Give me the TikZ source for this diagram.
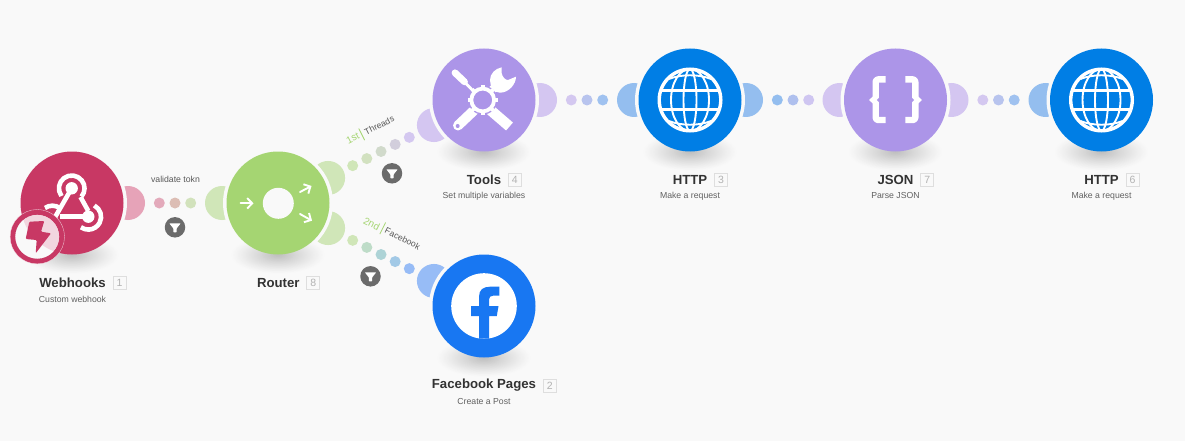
\documentclass[tikz,border=0pt]{standalone}
\usepackage{fontspec}
\setmainfont{Liberation Sans}
\usetikzlibrary{calc,arrows.meta}
\definecolor{bgc}{HTML}{F9F9F9}
\definecolor{pinkc}{HTML}{C83864}
\definecolor{greenc}{HTML}{A5D572}
\definecolor{purplec}{HTML}{AC95E8}
\definecolor{bluec}{HTML}{007EE5}
\definecolor{fbc}{HTML}{1877F2}
\definecolor{lpink}{HTML}{E6A3B8}
\definecolor{lgreen}{HTML}{D0E6B8}
\definecolor{lpurple}{HTML}{D4C6F1}
\definecolor{lblue}{HTML}{94BEEF}
\definecolor{lfb}{HTML}{97BCF6}
\definecolor{paleface}{HTML}{F2D6DF}
\tikzset{
  module/.style={circle,inner sep=0pt,minimum size=103pt,fill=#1},
  gapdisc/.style={circle,inner sep=0pt,minimum size=110pt,fill=bgc},
  lobe/.style={circle,inner sep=0pt,minimum size=34pt,fill=#1},
  dotc/.style={circle,inner sep=0pt,minimum size=11pt,fill=#1},
  title/.style={font=\fontsize{13.2}{15}\selectfont\bfseries,text=black!80,inner sep=0pt},
  subt/.style={font=\fontsize{8.7}{10}\selectfont,text=black!62,inner sep=0pt},
  numbox/.style={draw=black!13,line width=.9pt,minimum size=13pt,inner sep=0pt,font=\fontsize{10.5}{11}\selectfont,text=black!30,anchor=west,xshift=6.6pt},
  routel/.style={font=\fontsize{8.7}{10}\selectfont,text=black!65,inner sep=0pt},
  routen/.style={font=\fontsize{10}{11}\selectfont,text=greenc,inner sep=0pt},
  sepbar/.style={fill=greenc,inner sep=0pt,minimum width=.8pt,minimum height=13pt},
  fbtn/.style={circle,inner sep=0pt,minimum size=20.5pt,fill=black!58},
  ic/.style={white,line cap=round,line join=round}
}
\newcommand{\shadowunder}[2]{%
  \foreach \k in {30,...,1}{%
    \pgfmathsetmacro{\shv}{24*(1-\k/30)^1.15}%
    \pgfmathsetlengthmacro{\shx}{\k*48/30}%
    \pgfmathsetlengthmacro{\shy}{\k*19/30}%
    \fill[black!\shv!bgc] (#1,#2+52) ellipse[x radius=\shx,y radius=\shy];
  }}
\newcommand{\outlobe}[4]{\node[lobe=#4] (#3) at ($(#1)!56pt!(#2)$) {};}
\newcommand{\filt}[3]{%
  \node[fbtn] (#1) at (#2,#3) {};
  \fill[white,rounded corners=.6pt] (#2-5.7,#3-4) -- (#2+5.7,#3-4) -- (#2+1.6,#3+1.2) -- (#2+1.6,#3+5) -- (#2-1.6,#3+5) -- (#2-1.6,#3+1.2) -- cycle;}
\newcommand{\globeicon}[2]{%
  \begin{scope}[shift={(#1,#2)}]
    \draw[white,line width=3.4pt] (0,0) circle[radius=30.8pt];
    \draw[white,line width=1.9pt] (0,0) ellipse[x radius=6.5pt,y radius=31pt];
    \draw[white,line width=1.9pt] (0,0) ellipse[x radius=19pt,y radius=31pt];
    \draw[white,line width=3pt] (-30,-9.5) -- (30,-9.5);
    \draw[white,line width=3pt] (-30,9.5) -- (30,9.5);
    \draw[white,line width=1.9pt] (-21,-21) .. controls (-9,-26) and (9,-26) .. (21,-21);
    \draw[white,line width=1.9pt] (-21,21) .. controls (-9,26) and (9,26) .. (21,21);
  \end{scope}}
\newcommand{\braceicon}{%
  \draw[white,line width=6.4pt,rounded corners=2.5pt,line cap=butt,line join=round] (-9.8,-20.6) -- (-19.8,-20.6) -- (-19.8,20) -- (-9.8,20);
  \fill[white] (-21,-5) -- (-26.5,0) -- (-21,5) -- cycle;
  \fill[purplec] (-16,-2.6) -- (-18.6,0) -- (-16,2.6) -- cycle;}
\begin{document}
\begin{tikzpicture}[x=1pt,y=-1pt]
\path[use as bounding box,fill=bgc] (0,0) rectangle (1185,441);
% anchors for the modules
\coordinate (cw) at (72,203);\coordinate (cr) at (278,203);\coordinate (ct) at (484,100);\coordinate (ch) at (690,100);\coordinate (cj) at (895.5,100);\coordinate (ck) at (1101.5,100);\coordinate (cf) at (484,306);
% lobes
\outlobe{cw}{cr}{l1}{lpink}\outlobe{cr}{cw}{l2}{lgreen}
\outlobe{cr}{ct}{l3}{lgreen}\outlobe{ct}{cr}{l4}{lpurple}
\outlobe{cr}{cf}{l5}{lgreen}\outlobe{cf}{cr}{l6}{lfb}
\outlobe{ct}{ch}{l7}{lpurple}\outlobe{ch}{ct}{l8}{lblue}
\outlobe{ch}{cj}{l9}{lblue}\outlobe{cj}{ch}{l10}{lpurple}
\outlobe{cj}{ck}{l11}{lpurple}\outlobe{ck}{cj}{l12}{lblue}
% gaps
\foreach \c/\n in {cw/g1,cr/g2,ct/g3,ch/g4,cj/g5,ck/g6,cf/g7}{\node[gapdisc] (\n) at (\c) {};}
% shadows
\shadowunder{72}{203}\shadowunder{278}{203}\shadowunder{484}{100}\shadowunder{690}{100}\shadowunder{895.5}{100}\shadowunder{1101.5}{100}\shadowunder{484}{306}
% modules
\node[module=pinkc] (webhooks) at (cw) {};
\node[module=greenc] (router) at (cr) {};
\node[module=purplec] (tools) at (ct) {};
\node[module=bluec] (http) at (ch) {};
\node[module=purplec] (json) at (cj) {};
\node[module=bluec] (httpb) at (ck) {};
\node[module=fbc] (fb) at (cf) {};
% dots
\foreach \d/\col [count=\i] in {87.3/E3AABB,103/DCBDB4,118.7/D2E2BC}{\definecolor{tmpc}{HTML}{\col}\node[dotc=tmpc] (da\i) at ($(webhooks)!\d pt!(router)$) {};}
\foreach \d/\col [count=\i] in {83.5/D0E6B8,99.3/D2E1C0,115.2/D1DACB,131/D2CEDC,146.8/D4C8F0}{\definecolor{tmpc}{HTML}{\col}\node[dotc=tmpc] (db\i) at ($(router)!\d pt!(tools)$) {};}
\foreach \d/\col [count=\i] in {83.5/D0E6B8,99.3/BEDCC8,115.2/ADD3D6,131/A2C9E6,146.8/97BCF6}{\definecolor{tmpc}{HTML}{\col}\node[dotc=tmpc] (dc\i) at ($(router)!\d pt!(fb)$) {};}
\foreach \d/\col [count=\i] in {87.3/D4C8F0,103/B8C4EE,118.7/A0C2F0}{\definecolor{tmpc}{HTML}{\col}\node[dotc=tmpc] (dd\i) at ($(tools)!\d pt!(http)$) {};}
\foreach \d/\col [count=\i] in {87.3/94BEEF,103/AFC0EE,118.7/CFC6F1}{\definecolor{tmpc}{HTML}{\col}\node[dotc=tmpc] (de\i) at ($(http)!\d pt!(json)$) {};}
\foreach \d/\col [count=\i] in {87.3/D4C8F0,103/B8C4EE,118.7/A0C2F0}{\definecolor{tmpc}{HTML}{\col}\node[dotc=tmpc] (df\i) at ($(json)!\d pt!(httpb)$) {};}
% filters
\filt{fa}{175}{227.3}\filt{fb1}{392}{173.3}\filt{fc}{370.5}{276.3}
% webhook icon
\begin{scope}[ic]
  \draw[line width=4.6pt,line cap=butt] (71.7,188.3) -- (54,219);
  \draw[line width=4.6pt,line cap=butt] (88.3,216.7) -- (60,216.7);
  \draw[line width=4.6pt,line cap=butt] (80.5,197) -- (88.3,211);
  \fill (71.7,188.3) circle[radius=6.2pt];
  \fill (88.3,216.7) circle[radius=6.2pt];
  \draw[line width=4.6pt,line cap=butt] (61.5,196) arc[start angle=217,end angle=-40,radius=12.8pt];
  \draw[line width=4.6pt,line cap=butt] (94.3,205.5) arc[start angle=62,end angle=-125,radius=12.8pt];
  \draw[line width=4.6pt,line cap=butt] (45,208) arc[start angle=125,end angle=55,radius=12.8pt];
\end{scope}
% badge
\node[circle,inner sep=0pt,minimum size=44pt,fill=bgc] (badge) at (37.3,236.7) {};
\begin{scope}
  \clip (37.3,236.7) circle[radius=22pt];
  \fill[paleface] (cw) circle[radius=51.5pt];
  \draw[bgc,line width=4.6pt] (71.7,188.3) -- (54,219);
  \draw[bgc,line width=4.6pt] (88.3,216.7) -- (60,216.7);
  \draw[bgc,line width=4.6pt,line cap=butt] (45,208) arc[start angle=125,end angle=-30,radius=12.8pt];
\end{scope}
\draw[pinkc,line width=5pt] (badge) circle[radius=24.6pt];
\draw[paleface,line width=.3pt] (badge) circle[radius=27.2pt];
\fill[pinkc,rounded corners=1pt] (29.3,221.7) -- (44.3,221) -- (41,231.7) -- (51,233.3) -- (35.7,253.3) -- (36.7,240) -- (25.7,239) -- cycle;
% router icon
\node[circle,inner sep=0pt,minimum size=31pt,fill=bgc] (hub) at (278.3,203.3) {};
\begin{scope}[white,line width=1.9pt,line cap=round,line join=round]
  \draw[-{Straight Barb[length=5pt,width=10.5pt]}] (240.5,203.3) -- (253.5,203.3);
  \draw[-{Straight Barb[length=5pt,width=10.5pt]}] (300,192) -- (311.5,186);
  \draw[-{Straight Barb[length=5pt,width=10.5pt]}] (300,214) -- (312,220.7);
\end{scope}
% tools icon
\begin{scope}[ic]
  \draw[line width=6.8pt] (455,72.8) -- (464.5,81.8);
  \draw[line width=2.8pt,line cap=butt] (463,80.5) -- (480,98);
  \draw[line width=10pt,line cap=round] (458,125.5) -- (476,108.5);
  \fill[purplec] (457.7,126) circle[radius=2pt];
  \draw[line width=10.5pt,line cap=butt,line join=round] (509.5,126.5) -- (488,108);
  \fill (501.7,67.3) -- (501.7,73.3) .. controls (502.5,77) and (505,80) .. (508,80) -- (516,76.7) .. controls (516,84) and (509,92.7) .. (500,92.7) .. controls (494,92.7) and (490,87) .. (490,80) .. controls (490,74) and (495,68.5) .. (501.7,67.3) -- cycle;
  \draw[line width=8pt,line cap=butt] (496,86) -- (488,94);
  \fill[purplec] (482.7,100) circle[radius=14.6pt];
  \draw[line width=3.8pt] (482.7,100) circle[radius=11.4pt];
  \foreach \a in {0,45,...,315}{\draw[white,line width=3.8pt,line cap=butt] ($(482.7,100)+(\a:11.4pt)$) -- ($(482.7,100)+(\a:15pt)$);}
\end{scope}
% globes
\globeicon{690}{100}
\globeicon{1101.5}{100}
% braces
\begin{scope}[shift={(895.5,100)}]\braceicon\end{scope}
\begin{scope}[shift={(895.5,100)},xscale=-1]\braceicon\end{scope}
% facebook icon
\node[circle,inner sep=0pt,minimum size=65.6pt,fill=white] (fbface) at (484,306) {};
\fill[fbc] (479,306) -- (479,296.7) .. controls (479,290) and (483,286.7) .. (490,286.7) -- (499.3,286.7) -- (499.3,295.7) -- (493,295.7) .. controls (490.5,295.7) and (489,297) .. (489,299.5) -- (489,306) -- (498.5,306) -- (496.8,316) -- (489,316) -- (489,338.5) -- (479,338.5) -- (479,316) -- (471,316) -- (471,306) -- cycle;
% labels
\node[title] (t1) at (72.5,283) {Webhooks};\node[numbox,fill=bgc] (n1) at (t1.east) {1};\node[subt] (s1) at (72.5,299) {Custom webhook};
\node[title] (t8) at (278.3,283) {Router};\node[numbox,fill=bgc] (n8) at (t8.east) {8};
\node[title] (t4) at (484,180) {Tools};\node[numbox,fill=bgc] (n4) at (t4.east) {4};\node[subt] (s4) at (484,196) {Set multiple variables};
\node[title] (t3) at (690,180) {HTTP};\node[numbox,fill=bgc] (n3) at (t3.east) {3};\node[subt] (s3) at (690,196) {Make a request};
\node[title] (t7) at (895.5,180) {JSON};\node[numbox,fill=bgc] (n7) at (t7.east) {7};\node[subt] (s7) at (895.5,196) {Parse JSON};
\node[title] (t6) at (1101.5,180) {HTTP};\node[numbox,fill=bgc] (n6) at (t6.east) {6};\node[subt] (s6) at (1101.5,196) {Make a request};
\node[title] (t2) at (484,385.5) {Facebook Pages};\node[numbox,fill=bgc] (n2) at (t2.east) {2};\node[subt] (s2) at (484,401.3) {Create a Post};
% route labels
\node[routel] (v) at (175.5,179) {validate tokn};
\node[routen,rotate=26.6] (r1) at (352.7,138.3) {1st};
\node[sepbar,rotate=26.6] (b1) at (361.7,134.3) {};
\node[routel,rotate=26.6] (r1b) at (379.3,125.3) {Threads};
\node[routen,rotate=-26.6] (r2) at (371.7,224) {2nd};
\node[sepbar,rotate=-26.6] (b2) at (382.7,228.3) {};
\node[routel,rotate=-26.6] (r2b) at (402.7,238.7) {Facebook};
\end{tikzpicture}
\end{document}
